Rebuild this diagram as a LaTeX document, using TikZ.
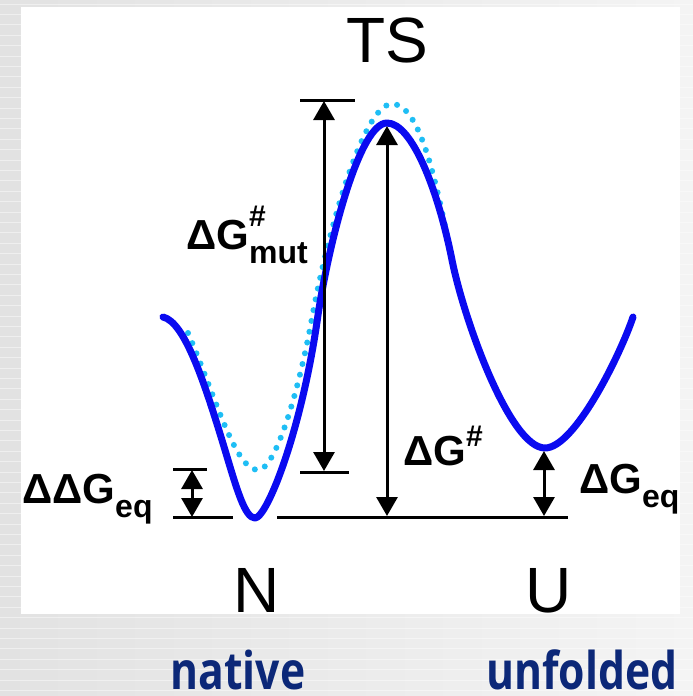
\documentclass[tikz,border=0pt]{standalone}
\usepackage{fontspec}
\setmainfont{Liberation Sans}
\newfontfamily\lblfont{Open Sans}[FakeStretch=0.82]
\usetikzlibrary{arrows.meta}
\definecolor{curveblue}{RGB}{10,10,240}
\definecolor{mutblue}{RGB}{30,190,245}
\definecolor{navy}{RGB}{12,40,120}
\definecolor{bgl}{RGB}{226,226,226}
\definecolor{bgr}{RGB}{244,244,244}
\newcommand\subtxt[1]{\raisebox{-14pt}{\fontsize{32}{32}\selectfont #1}}
\newcommand\suptxt[1]{\raisebox{#1}{\fontsize{30}{30}\selectfont\#}}
\tikzset{
  energy/.style={curveblue, line width=7pt, line cap=round, line join=round},
  mutant/.style={mutblue, line width=6pt, line cap=round, dash pattern=on 0pt off 11pt},
  level/.style={black, line width=3pt},
  dim/.style={black, line width=3pt, {Triangle[width=21pt,length=19pt]}-{Triangle[width=21pt,length=19pt]}},
  biglabel/.style={font=\fontsize{42}{42}\selectfont\bfseries, inner sep=0pt, anchor=base west},
  statelabel/.style={font=\fontsize{64}{64}\selectfont, inner sep=0pt, anchor=base},
  wordlabel/.style={font=\lblfont\bfseries\fontsize{52}{52}\selectfont, text=navy, inner sep=0pt, anchor=base},
}
\begin{document}
\begin{tikzpicture}[x=1pt,y=-1pt]
\useasboundingbox (0,0) rectangle (693,696);
% background
\shade[left color=bgl, right color=bgr] (0,0) rectangle (693,696);
\foreach \i in {0,...,66} \draw[white, opacity=0.45, line width=0.8pt] (0,{\i*10.4+4}) -- (693,{\i*10.4+4});
\fill[white] (21,7) rectangle (680,614);

% key points of the energy profile
\coordinate (S) at (163,317);
\coordinate (A) at (225,450);
\coordinate (Nmin) at (255,518);
\coordinate (B) at (318,315);
\coordinate (TSmax) at (387,123);
\coordinate (C) at (452,260);
\coordinate (Umin) at (545,448);
\coordinate (E) at (633,317);
% mutant profile
\coordinate (M0) at (188,333);
\coordinate (Mmin) at (258,470);
\coordinate (MB) at (312,318);
\coordinate (Mmax) at (392,104);

% mutant curve (dotted)
\draw[mutant] (M0) .. controls (215,395) and (235,470) .. (Mmin)
  .. controls (275,470) and (298,395) .. (MB)
  .. controls (326,241) and (362,104) .. (Mmax)
  .. controls (420,104) and (436,180) .. (C);

% wild-type energy profile
\draw[energy] (S) .. controls (185,322) and (205,384) .. (A)
  .. controls (237,490) and (245,518) .. (Nmin)
  .. controls (267,518) and (302,430) .. (B)
  .. controls (330,237) and (360,123) .. (TSmax)
  .. controls (412,123) and (438,190) .. (C)
  .. controls (464,320) and (510,448) .. (Umin)
  .. controls (575,448) and (621,353) .. (E);

% levels
\coordinate (ddgL) at (173,469);
\coordinate (ddgR) at (207,469);
\coordinate (baseL1) at (173,517);
\coordinate (baseR1) at (233,517);
\coordinate (baseL2) at (277,517);
\coordinate (baseR2) at (568,517);
\coordinate (mutTopL) at (300,100);
\coordinate (mutTopR) at (355,100);
\coordinate (mutBotL) at (300,472);
\coordinate (mutBotR) at (349,472);
\draw[level] (ddgL) -- (ddgR);
\draw[level] (baseL1) -- (baseR1);
\draw[level] (baseL2) -- (baseR2);
\draw[level] (mutTopL) -- (mutTopR);
\draw[level] (mutBotL) -- (mutBotR);

% dimension arrows
\coordinate (ddgA) at (192,470);
\coordinate (ddgB) at (192,517);
\coordinate (mutA) at (324,101);
\coordinate (mutB) at (324,471);
\coordinate (tsA) at (387,126);
\coordinate (tsB) at (387,516);
\coordinate (eqA) at (544,451);
\coordinate (eqB) at (544,516);
\draw[dim] (ddgA) -- (ddgB);
\draw[dim] (mutA) -- (mutB);
\draw[dim] (tsA) -- (tsB);
\draw[dim] (eqA) -- (eqB);

% labels
\node[biglabel] (lddg) at (22,503) {ΔΔG\subtxt{eq}};
\node[biglabel] (lmut) at (186,249) {ΔG\rlap{\suptxt{23pt}}\subtxt{mut}};
\node[biglabel] (lts) at (403,465) {ΔG\suptxt{19pt}};
\node[biglabel] (leq) at (579,493) {ΔG\subtxt{eq}};

\node[statelabel] (TS) at (387,62) {TS};
\node[statelabel] (N) at (257,612) {N};
\node[statelabel] (U) at (549,612) {U};

\node[wordlabel] (native) at (238,689) {native};
\node[wordlabel] (unfolded) at (582,689) {unfolded};
\end{tikzpicture}
\end{document}
